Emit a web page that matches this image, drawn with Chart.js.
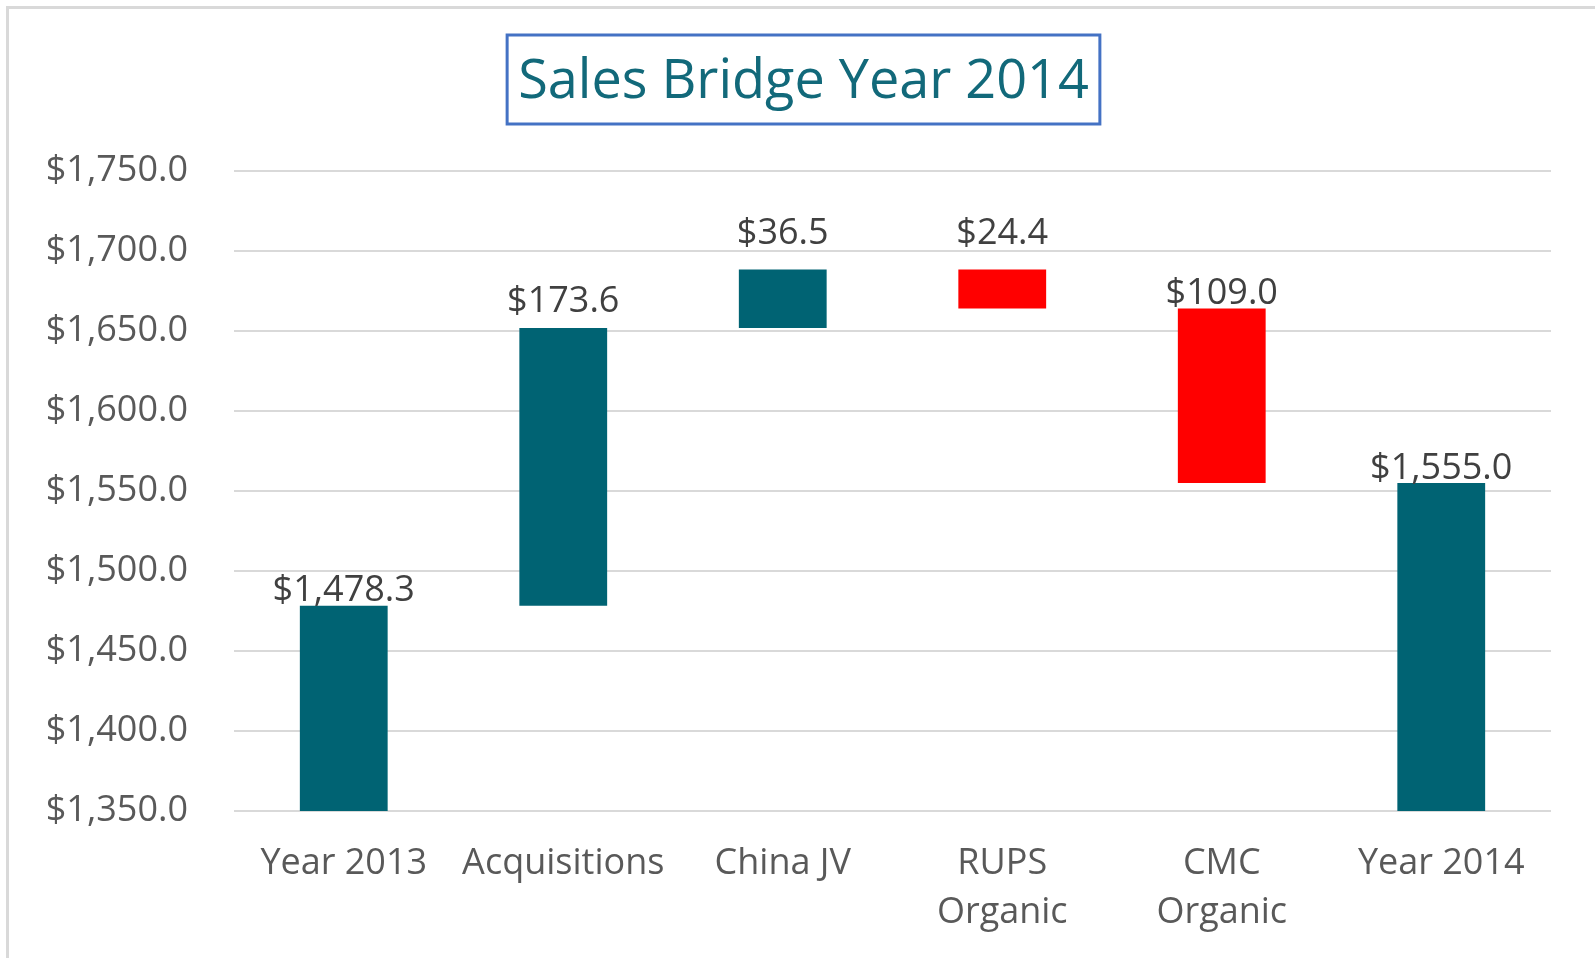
<!DOCTYPE html>
<html>
<head>
  <meta charset="utf-8">
  <script src="https://cdn.jsdelivr.net/npm/chart.js"></script>
  <style>
    html, body { margin: 0; padding: 0; background: #fff; overflow: hidden; }
    .frame { position: absolute; left: 6px; top: 6px; width: 2000px; height: 2000px;
             border-left: 3px solid #d9d9d9; border-top: 3px solid #d9d9d9; }
    #bridge { position: absolute; left: 0; top: 0; }
  </style>
</head>
<body>
  <div class="frame"></div>
  <canvas id="bridge" width="1595" height="958"></canvas>
  <script>
    // sales bridge data, $ millions
    const categories = ['Year 2013', 'Acquisitions', 'China JV', ['RUPS', 'Organic'], ['CMC', 'Organic'], 'Year 2014'];
    const startTotal = 1478.3;
    const changes = [173.6, 36.5, -24.4, -109.0];
    const endTotal = 1555.0;
    const yMin = 1350, yMax = 1750, yStep = 50;

    const TEAL = '#006373';
    const RED = '#ff0000';
    const FONT = "'Open Sans', sans-serif";
    // how far each value label sits above its bar (px)
    const labelLift = [15, 26, 36, 36, 15, 14];

    const money = v => '$' + v.toLocaleString('en-US', { minimumFractionDigits: 1, maximumFractionDigits: 1 });

    // build the floating bars
    const bars = [startTotal];
    const colors = [TEAL];
    const labels = [money(startTotal)];
    let running = startTotal;
    changes.forEach(c => {
      const next = Math.round((running + c) * 10) / 10;
      bars.push([running, next]);
      colors.push(c >= 0 ? TEAL : RED);
      labels.push(money(Math.abs(c)));
      running = next;
    });
    bars.push(endTotal);
    colors.push(TEAL);
    labels.push(money(endTotal));

    const valueLabels = {
      id: 'valueLabels',
      afterDatasetsDraw(chart) {
        const ctx = chart.ctx;
        const meta = chart.getDatasetMeta(0);
        ctx.save();
        ctx.font = `36px ${FONT}`;
        ctx.fillStyle = '#404040';
        ctx.textAlign = 'center';
        ctx.textBaseline = 'middle';
        meta.data.forEach((bar, i) => {
          const top = Math.min(bar.y, bar.base);
          ctx.fillText(labels[i], bar.x, top - labelLift[i]);
        });
        ctx.restore();
      }
    };

    const titleBox = {
      id: 'titleBox',
      afterDraw(chart) {
        const ctx = chart.ctx;
        const t = chart.options.plugins.title;
        const pad = chart.options.layout.padding;
        ctx.save();
        ctx.font = `${t.font.size}px ${FONT}`;
        const w = ctx.measureText(t.text).width + 22;
        const cx = (pad.left + chart.width - pad.right) / 2;
        ctx.strokeStyle = '#4472c4';
        ctx.lineWidth = 3;
        ctx.strokeRect(cx - w / 2, 35, w, 89);
        ctx.restore();
      }
    };

    new Chart(document.getElementById('bridge'), {
      type: 'bar',
      data: {
        labels: categories,
        datasets: [{
          data: bars,
          backgroundColor: colors,
          borderWidth: 0,
          barPercentage: 0.4,
          categoryPercentage: 1.0
        }]
      },
      options: {
        responsive: false,
        animation: false,
        layout: { padding: { left: 12, right: 0, top: 0, bottom: 0 } },
        plugins: {
          legend: { display: false },
          tooltip: { enabled: false },
          title: {
            display: true,
            text: 'Sales Bridge Year 2014',
            color: '#12697a',
            font: { family: FONT, size: 54, weight: 'normal', lineHeight: 1.2 },
            padding: { top: 50.6, bottom: 55.6 }
          }
        },
        scales: {
          x: {
            grid: { display: false, drawTicks: false },
            border: { display: false },
            ticks: {
              color: '#595959',
              padding: 28,
              maxRotation: 0,
              autoSkip: false,
              font: { family: FONT, size: 36, lineHeight: 1.36 }
            },
            afterFit(scale) { scale.height = 147; }
          },
          y: {
            min: yMin,
            max: yMax,
            grid: { color: '#d9d9d9', lineWidth: 2, drawTicks: false },
            border: { display: false },
            ticks: {
              stepSize: yStep,
              color: '#595959',
              padding: 46,
              font: { family: FONT, size: 36 },
              callback: v => money(v)
            },
            afterFit(scale) { scale.width = 222; }
          },
          // empty right margin so the plot ends where the original does
          yRight: {
            position: 'right',
            grid: { display: false, drawTicks: false },
            border: { display: false },
            ticks: { display: false },
            afterFit(scale) { scale.width = 44; }
          }
        }
      },
      plugins: [valueLabels, titleBox]
    });
  </script>
</body>
</html>
